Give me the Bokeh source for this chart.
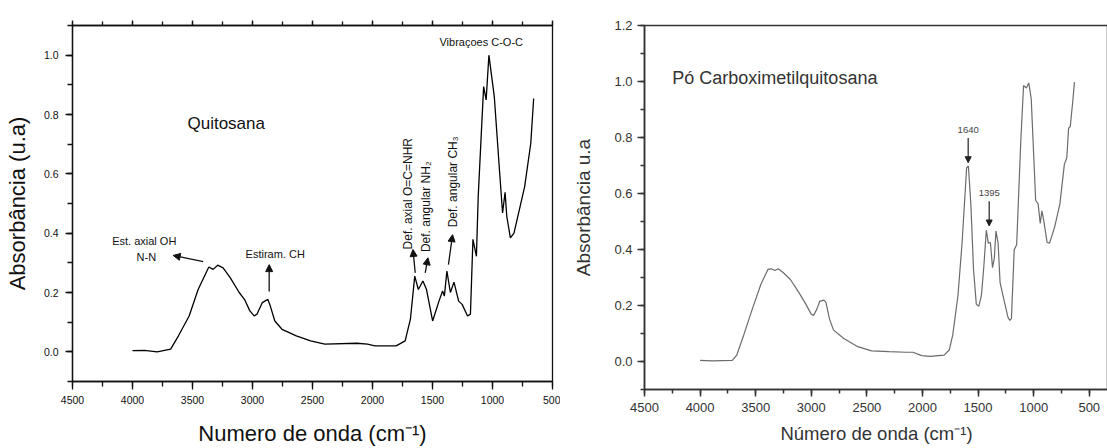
from math import pi

from bokeh.embed import file_html
from bokeh.layouts import row
from bokeh.models import (Arrow, CustomJSTickFormatter, Label, LinearAxis,
                          NormalHead, PrintfTickFormatter, Range1d,
                          SingleIntervalTicker)
from bokeh.plotting import figure
from bokeh.resources import INLINE

FONT = "Liberation Sans"

# FTIR spectrum of chitosan (wavenumber in cm^-1, absorbance in a.u.)
quit_wn = [4000, 3900, 3795, 3682, 3617, 3528, 3453, 3364, 3328, 3290, 3245,
           3186, 3111, 3067, 3022, 2986, 2963, 2918, 2873, 2852, 2814, 2754,
           2635, 2516, 2397, 2130, 2041, 1981, 1803, 1728, 1684, 1648, 1618,
           1580, 1550, 1499, 1446, 1416, 1401, 1380, 1351, 1321, 1282, 1253,
           1208, 1184, 1163, 1134, 1119, 1074, 1053, 1030, 985, 940, 916, 895,
           881, 851, 821, 732, 681, 657]
quit_abs = [0.004, 0.005, 0.0, 0.009, 0.054, 0.121, 0.21, 0.286, 0.278, 0.292,
            0.283, 0.25, 0.2, 0.177, 0.138, 0.121, 0.127, 0.166, 0.177, 0.155,
            0.104, 0.076, 0.054, 0.037, 0.026, 0.029, 0.026, 0.02, 0.02, 0.037,
            0.11, 0.255, 0.21, 0.239, 0.21, 0.104, 0.171, 0.205, 0.188, 0.272,
            0.2, 0.235, 0.171, 0.16, 0.121, 0.127, 0.379, 0.322, 0.524, 0.894,
            0.849, 1.0, 0.86, 0.602, 0.468, 0.538, 0.457, 0.384, 0.4, 0.557,
            0.703, 0.854]

# FTIR spectrum of carboxymethyl chitosan powder
cmc_wn = [4000, 3888, 3711, 3670, 3608, 3530, 3453, 3390, 3359, 3328, 3297,
          3251, 3188, 3111, 3049, 3002, 2980, 2949, 2924, 2887, 2868, 2837,
          2800, 2707, 2582, 2458, 2302, 2147, 2085, 2007, 1930, 1805, 1759,
          1728, 1681, 1644, 1603, 1587, 1565, 1541, 1516, 1494, 1470, 1448,
          1426, 1408, 1389, 1370, 1354, 1339, 1320, 1302, 1262, 1231, 1215,
          1200, 1175, 1153, 1116, 1091, 1066, 1044, 1022, 1004, 982, 960, 941,
          926, 910, 879, 857, 811, 764, 724, 702, 686, 671, 649, 633]
cmc_abs = [0.004, 0.002, 0.004, 0.023, 0.094, 0.188, 0.276, 0.329, 0.331,
           0.325, 0.331, 0.317, 0.293, 0.246, 0.205, 0.17, 0.164, 0.188, 0.215,
           0.219, 0.211, 0.153, 0.112, 0.082, 0.053, 0.038, 0.035, 0.033, 0.033,
           0.021, 0.018, 0.023, 0.041, 0.094, 0.235, 0.423, 0.692, 0.698, 0.563,
           0.329, 0.205, 0.197, 0.235, 0.34, 0.469, 0.423, 0.425, 0.335, 0.369,
           0.466, 0.423, 0.282, 0.211, 0.158, 0.147, 0.153, 0.399, 0.417, 0.786,
           0.986, 0.977, 0.995, 0.939, 0.775, 0.575, 0.563, 0.493, 0.538, 0.505,
           0.425, 0.423, 0.481, 0.563, 0.704, 0.728, 0.833, 0.839, 0.927, 0.998]

# annotated band positions on the carboxymethyl chitosan spectrum
cmc_band_labels = ["1640", "1395"]
cmc_band_wn = [1589, 1400]
cmc_band_abs = [0.698, 0.472]


def style_axis(ax, size, color, tick_out, minor_out, width, standoff):
    ax.axis_line_color = color
    ax.axis_line_width = width
    ax.major_tick_line_color = color
    ax.minor_tick_line_color = color
    ax.major_tick_line_width = width
    ax.minor_tick_line_width = width
    ax.major_tick_in = 0
    ax.minor_tick_in = 0
    ax.major_tick_out = tick_out
    ax.minor_tick_out = minor_out
    ax.major_label_text_font = FONT
    ax.major_label_text_font_size = size
    ax.major_label_text_color = color
    ax.major_label_standoff = standoff


def title(ax, text, size, color, standoff):
    ax.axis_label = text
    ax.axis_label_text_font = FONT
    ax.axis_label_text_font_size = size
    ax.axis_label_text_font_style = "normal"
    ax.axis_label_text_color = color
    ax.axis_label_standoff = standoff


def label(p, x, y, text, size, color="#111111", angle=0.0, align="center"):
    p.add_layout(Label(x=x, y=y, text=text, text_font=FONT,
                       text_font_size=size, text_color=color, angle=angle,
                       text_align=align, text_baseline="middle"))


def arrow(p, x0, y0, x1, y1, color, size, width):
    p.add_layout(Arrow(x_start=x0, y_start=y0, x_end=x1, y_end=y1,
                       line_color=color, line_width=width,
                       end=NormalHead(size=size, fill_color=color,
                                      line_color=color)))


blank = CustomJSTickFormatter(code="return ''")

# ---------------- left panel: Quitosana ----------------
p1 = figure(width=560, height=448, output_backend="svg", toolbar_location=None,
            x_range=Range1d(4500, 500), y_range=Range1d(-0.1, 1.1),
            min_border_left=72, min_border_right=8, min_border_top=25,
            min_border_bottom=65, x_axis_location=None, y_axis_location=None)
p1.title.visible = False
p1.grid.visible = False
p1.outline_line_color = "#111111"
p1.outline_line_width = 1.3
p1.background_fill_color = "white"
p1.border_fill_color = "white"

xt1 = SingleIntervalTicker(interval=500, num_minor_ticks=2)
yt1 = SingleIntervalTicker(interval=0.2, num_minor_ticks=2)

bx1 = LinearAxis(ticker=xt1)
style_axis(bx1, "10.5px", "#111111", 8, 5, 1.3, 6)
title(bx1, "Numero de onda (cm⁻¹)", "22px", "#111111", 14)
p1.add_layout(bx1, "below")

tx1 = LinearAxis(ticker=xt1, formatter=blank)
style_axis(tx1, "10px", "#111111", 5, 4, 1.3, 0)
p1.add_layout(tx1, "above")

ly1 = LinearAxis(ticker=yt1, formatter=PrintfTickFormatter(format="%.1f"))
style_axis(ly1, "10.5px", "#111111", 7, 5, 1.3, 7)
title(ly1, "Absorbância (u.a)", "22px", "#111111", 11)
p1.add_layout(ly1, "left")

p1.line(quit_wn, quit_abs, line_color="#000000", line_width=1.3)

label(p1, 3219, 0.768, "Quitosana", "17px")
label(p1, 1094, 1.044, "Vibraçoes C-O-C", "11px")
label(p1, 3902, 0.375, "Est. axial OH", "11px")
label(p1, 3885, 0.321, "N-N", "11px")
label(p1, 2811, 0.331, "Estiram. CH", "11px")
label(p1, 1702, 0.533, "Def. axial O=C=NHR", "12px", angle=pi / 2)
label(p1, 1552, 0.489, "Def. angular NH₂", "12px", angle=pi / 2)
label(p1, 1330, 0.573, "Def. angular CH₃", "12px", angle=pi / 2)

arrow(p1, 3411, 0.304, 3661, 0.325, "#111111", 7, 1.3)
arrow(p1, 2861, 0.203, 2861, 0.294, "#111111", 7, 1.3)
arrow(p1, 1644, 0.266, 1663, 0.345, "#111111", 7, 1.3)
arrow(p1, 1561, 0.266, 1538, 0.317, "#111111", 7, 1.3)
arrow(p1, 1367, 0.294, 1333, 0.395, "#111111", 7, 1.3)

# ---------------- right panel: Pó Carboximetilquitosana ----------------
# the frame runs one pixel past the page's right edge, so its right border
# is not seen; the outline gives the top border line
p2 = figure(frame_width=464, frame_height=364, output_backend="svg",
            toolbar_location=None,
            x_range=Range1d(4500, 327), y_range=Range1d(-0.1, 1.2001),
            min_border_left=84, min_border_right=0, min_border_top=25,
            min_border_bottom=40, x_axis_location=None, y_axis_location=None)
p2.title.visible = False
p2.grid.visible = False
p2.outline_line_color = "#333333"
p2.outline_line_width = 1.5
p2.background_fill_color = "white"
p2.border_fill_color = "white"

xt2 = SingleIntervalTicker(interval=500, num_minor_ticks=2)
yt2 = SingleIntervalTicker(interval=0.2, num_minor_ticks=2)

bx2 = LinearAxis(ticker=xt2)
style_axis(bx2, "13px", "#333333", 7, 4, 1.5, 6)
title(bx2, "Número de onda (cm⁻¹)", "18.5px", "#333333", 8)
p2.add_layout(bx2, "below")

ly2 = LinearAxis(ticker=yt2, formatter=PrintfTickFormatter(format="%.1f"))
style_axis(ly2, "13px", "#333333", 7, 4, 1.5, 5)
title(ly2, "Absorbância u.a", "19px", "#333333", 17)
p2.add_layout(ly2, "left")

p2.line(cmc_wn, cmc_abs, line_color="#6b6b6b", line_width=1.2)

label(p2, 4250, 1.014, "Pó Carboximetilquitosana", "18px", color="#333333",
      align="left")

for txt, wn, ab in zip(cmc_band_labels, cmc_band_wn, cmc_band_abs):
    label(p2, wn, ab + 0.13, txt, "9.5px", color="#444444")
    arrow(p2, wn, ab + 0.1, wn, ab + 0.012, "#222222", 6, 1.2)

layout = row(p1, p2)
open("out.html", "w").write(file_html(layout, INLINE))
